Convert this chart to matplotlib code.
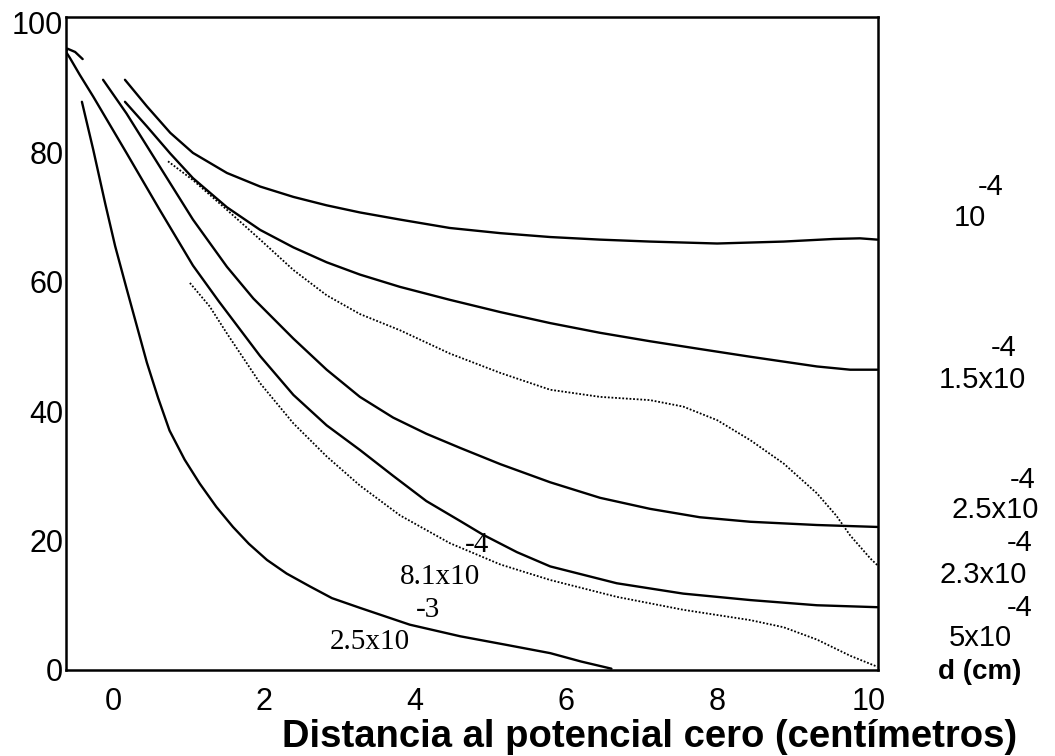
import numpy as np
import matplotlib
matplotlib.use("Agg")
from matplotlib import pyplot as plt

# curvas de porcentaje vs distancia, una por cada valor de conductividad
x_1e4 = [0.16, 0.45, 0.76, 1.06, 1.51, 1.95, 2.39, 2.83, 3.27, 3.8, 4.46, 5.13, 5.79, 6.45, 7.11, 8.0, 8.88, 9.54, 9.89, 10.12]
y_1e4 = [91.2, 87.1, 83.0, 79.9, 76.8, 74.7, 73.1, 71.8, 70.7, 69.6, 68.3, 67.5, 66.9, 66.5, 66.2, 65.9, 66.2, 66.6, 66.7, 66.5]

x_15e4 = [0.16, 0.45, 0.76, 1.06, 1.51, 1.95, 2.39, 2.83, 3.27, 3.8, 4.46, 5.13, 5.79, 6.45, 7.11, 7.77, 8.44, 9.32, 9.76, 10.12]
y_15e4 = [87.8, 84.0, 79.8, 76.0, 71.5, 68.0, 65.3, 63.0, 61.1, 59.2, 57.2, 55.3, 53.6, 52.1, 50.8, 49.6, 48.4, 46.9, 46.4, 46.4]

x_pa = [0.73, 1.06, 1.51, 1.95, 2.39, 2.83, 3.27, 3.8, 4.46, 5.13, 5.79, 6.45, 7.11, 7.55, 8.0, 8.44, 8.88, 9.32, 9.58, 9.76, 10.03, 10.12]
y_pa = [78.6, 75.7, 71.1, 66.5, 61.8, 57.9, 55.0, 52.5, 48.9, 45.9, 43.3, 42.2, 41.7, 40.7, 38.6, 35.5, 31.9, 27.3, 23.8, 20.8, 17.2, 16.2]

x_25e4 = [-0.13, 0.18, 0.62, 1.06, 1.51, 1.86, 2.39, 2.83, 3.27, 3.71, 4.15, 4.6, 5.13, 5.79, 6.45, 7.11, 7.77, 8.44, 9.32, 10.12]
y_25e4 = [91.2, 86.0, 77.8, 69.6, 62.3, 57.4, 51.2, 46.4, 42.2, 39.0, 36.5, 34.3, 31.8, 29.0, 26.6, 24.9, 23.6, 22.9, 22.4, 22.1]

x_5e4 = [-0.40, -0.50, -0.60, -0.62, -0.57, -0.44, -0.26, 0.18, 0.62, 1.06, 1.4, 1.95, 2.39, 2.83, 3.27, 3.71,
         4.15, 4.6, 4.9, 5.35, 5.79, 6.67, 7.55, 8.44, 9.32, 10.12]
y_5e4 = [94.4, 95.5, 96.0, 95.5, 94.6, 92.0, 88.6, 79.9, 71.1, 62.5, 57.0, 48.5, 42.5, 37.8, 34.0, 30.0,
         26.1, 23.0, 20.9, 18.2, 16.0, 13.4, 11.8, 10.8, 10.0, 9.7]

x_pb = [1.02, 1.28, 1.51, 1.95, 2.39, 2.83, 3.27, 3.8, 4.46, 5.13, 5.79, 6.67, 7.55, 8.44, 8.88, 9.32, 9.76, 10.12]
y_pb = [59.8, 56.2, 52.0, 44.3, 38.1, 33.0, 28.5, 23.9, 19.6, 16.3, 13.9, 11.3, 9.3, 7.7, 6.6, 4.7, 2.2, 0.5]

x_25e3 = [-0.41, -0.26, -0.1, 0.03, 0.18, 0.45, 0.6, 0.75, 0.95, 1.15, 1.37, 1.59, 1.8, 2.04, 2.3, 2.61, 2.9,
          3.27, 3.93, 4.6, 5.2, 5.79, 6.2, 6.6]
y_25e3 = [87.8, 80.4, 72.0, 65.5, 59.0, 47.5, 42.0, 37.0, 32.5, 28.8, 25.2, 22.1, 19.5, 17.0, 14.9, 12.9, 11.1,
          9.6, 7.0, 5.2, 3.9, 2.6, 1.3, 0.2]

xticks = [0, 2, 4, 6, 8, 10]
yticks = [0, 20, 40, 60, 80, 100]

fig = plt.figure(figsize=(10.55, 7.56), dpi=100)
ax = fig.add_axes([0.0626, 0.1138, 0.7697, 0.8637])

solido = dict(color="black", lw=1.7, solid_capstyle="round", solid_joinstyle="round")
punteado = dict(color="black", lw=1.3, linestyle=(0, (1, 1)))

ax.plot(x_1e4, y_1e4, **solido)
ax.plot(x_15e4, y_15e4, **solido)
ax.plot(x_pa, y_pa, **punteado)
ax.plot(x_25e4, y_25e4, **solido)
ax.plot(x_5e4, y_5e4, **solido)
ax.plot(x_pb, y_pb, **punteado)
ax.plot(x_25e3, y_25e3, **solido)

ax.set_xlim(-0.62, 10.13)
ax.set_ylim(0, 100.9)
for s in ax.spines.values():
    s.set_linewidth(1.8)

ax.set_xticks(xticks)
ax.set_yticks(yticks)
ax.tick_params(length=0, labelsize=22)
ax.tick_params(axis="x", pad=12)
ax.tick_params(axis="y", pad=2)
for lab in ax.get_xticklabels() + ax.get_yticklabels():
    lab.set_family("Liberation Sans")

# etiquetas dentro del grafico (serif)
serif = dict(family="Liberation Serif", fontsize=21, ha="center", va="center")
ax.text(4.82, 19.3, "-4", **serif)
ax.text(4.33, 14.4, "8.1x10", **serif)
ax.text(4.17, 9.3, "-3", **serif)
ax.text(3.40, 4.3, "2.5x10", **serif)

# etiquetas a la derecha
sans = dict(family="Liberation Sans", fontsize=21, ha="center", va="center", clip_on=False)
ax.text(11.62, 74.7, "-4", **sans)
ax.text(11.35, 69.9, "10", **sans)
ax.text(11.79, 49.8, "-4", **sans)
ax.text(11.51, 44.8, "1.5x10", **sans)
ax.text(12.05, 29.4, "-4", **sans)
ax.text(11.68, 24.7, "2.5x10", **sans)
ax.text(12.01, 19.6, "-4", **sans)
ax.text(11.52, 14.7, "2.3x10", **sans)
ax.text(12.01, 9.6, "-4", **sans)
ax.text(11.48, 4.9, "5x10", **sans)
ax.text(11.48, -0.3, "d (cm)", family="Liberation Sans", fontsize=20, fontweight="bold",
        ha="center", va="center", clip_on=False)

fig.text(650 / 1055, 1 - 737 / 756, "Distancia al potencial cero (centímetros)",
         family="Liberation Sans", fontsize=27.5, fontweight="bold", ha="center", va="center")

fig.savefig("out.png", dpi=100)
